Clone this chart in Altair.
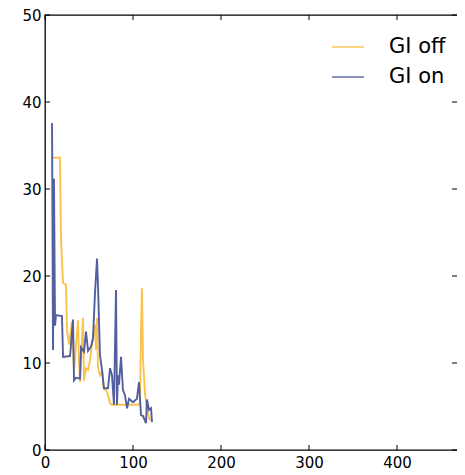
import altair as alt
import pandas as pd

# GI off series (orange)
off_x = [8.0, 17.0, 18.2, 20.5, 23.9, 25.0, 27.3, 30.7, 33.0, 35.2, 37.5, 38.6, 39.8, 43.2, 44.3,
         46.6, 48.9, 51.1, 53.4, 56.8, 58.0, 59.1, 60.2, 62.5, 64.8, 67.0, 70.5, 73.9, 76.1,
         105.7, 108.0, 109.1, 110.2, 111.4, 113.6, 115.9, 119.3]
off_y = [33.6, 33.6, 24.1, 19.2, 19.0, 13.8, 12.1, 14.7, 9.2, 12.1, 14.9, 10.3, 7.8, 15.2, 8.0,
         9.4, 9.2, 10.3, 12.1, 14.4, 11.5, 15.2, 9.5, 8.6, 9.0, 7.1, 6.7, 5.4, 5.2,
         5.2, 5.4, 13.8, 18.6, 10.3, 6.6, 4.6, 3.4]

# GI on series (blue)
on_x = [8.0, 9.1, 10.2, 11.4, 12.5, 19.3, 20.5, 28.4, 29.5, 31.8, 33.0, 35.2, 39.8, 40.9, 44.3,
        46.6, 48.9, 52.3, 54.5, 56.8, 59.1, 60.2, 62.5, 64.8, 67.0, 71.6, 73.9, 76.1, 78.4,
        80.7, 81.8, 83.0, 84.1, 86.4, 88.6, 90.9, 93.2, 95.5, 100.0, 104.5, 106.8, 109.1,
        111.4, 114.8, 115.9, 118.2, 120.5, 121.6]
on_y = [37.6, 11.5, 31.2, 14.3, 15.5, 15.4, 10.7, 10.8, 12.0, 15.0, 8.0, 8.3, 8.2, 11.8, 11.3,
        13.6, 11.4, 11.9, 12.8, 18.0, 22.0, 19.0, 10.9, 9.2, 7.1, 7.1, 9.4, 8.6, 5.2,
        18.4, 5.2, 8.6, 7.5, 10.7, 6.9, 6.3, 4.8, 5.9, 5.5, 5.9, 7.8, 4.0,
        3.9, 3.1, 5.8, 4.6, 4.8, 3.2]

series_names = ["GI off", "GI on"]
series_colors = ["#fbbf45", "#4a5699"]
x_ticks = [0, 100, 200, 300, 400]
y_ticks = [0, 10, 20, 30, 40, 50]

rows = []
for i, (xv, yv) in enumerate(zip(off_x, off_y)):
    rows.append({"x": xv, "y": yv, "s": "GI off", "o": i})
for i, (xv, yv) in enumerate(zip(on_x, on_y)):
    rows.append({"x": xv, "y": yv, "s": "GI on", "o": i})
df = pd.DataFrame(rows)

W, H = 420, 435
VIS = W - 8  # visible right edge of the plot (svg is cut there)
xs = alt.Scale(domain=[0, 477.3], nice=False, zero=False)
ys = alt.Scale(domain=[0, 50], nice=False, zero=False)
FONT = "DejaVu Sans"

x_axis = alt.Axis(values=x_ticks, ticks=False, domain=False, grid=False,
                  labelPadding=5, labelFontSize=15, labelFont=FONT,
                  labelColor="black", title=None, labelFlush=False)
y_axis = alt.Axis(values=y_ticks, ticks=False, domain=False, grid=False,
                  labelPadding=4, labelFontSize=15, labelFont=FONT,
                  labelColor="black", title=None, labelFlush=False)

lines = alt.Chart(df).mark_line(strokeWidth=1.9, opacity=0.95, clip=True).encode(
    x=alt.X("x:Q", scale=xs, axis=x_axis, title=None),
    y=alt.Y("y:Q", scale=ys, axis=y_axis, title=None),
    color=alt.Color("s:N", scale=alt.Scale(domain=series_names, range=series_colors),
                    legend=alt.Legend(orient="none", legendX=286, legendY=15, title=None,
                                      symbolType="stroke", symbolSize=1024, symbolStrokeWidth=1.6,
                                      labelFontSize=21, labelFont=FONT, labelColor="black",
                                      labelOffset=24, rowPadding=3, symbolOpacity=0.8)),
    order="o:Q",
)

ydf = pd.DataFrame({"y": y_ticks})
xdf = pd.DataFrame({"x": x_ticks})

yt_left = alt.Chart(ydf).mark_rule(color="black", strokeWidth=1).encode(
    y=alt.Y("y:Q", scale=ys, axis=y_axis, title=None), x=alt.value(0), x2=alt.value(5))
yt_right = alt.Chart(ydf).mark_rule(color="black", strokeWidth=1).encode(
    y=alt.Y("y:Q", scale=ys, axis=y_axis, title=None), x=alt.value(VIS - 5), x2=alt.value(VIS))
xt_bot = alt.Chart(xdf).mark_rule(color="black", strokeWidth=1).encode(
    x=alt.X("x:Q", scale=xs, axis=x_axis, title=None), y=alt.value(H - 5), y2=alt.value(H))
xt_top = alt.Chart(xdf).mark_rule(color="black", strokeWidth=1).encode(
    x=alt.X("x:Q", scale=xs, axis=x_axis, title=None), y=alt.value(0), y2=alt.value(5))

chart = alt.layer(lines, yt_left, yt_right, xt_bot, xt_top).properties(
    width=W, height=H,
    background="white",
    autosize=alt.AutoSizeParams(type="none"),
    padding={"left": 37, "top": 7, "right": -8, "bottom": 25},
).configure_view(stroke="black", strokeWidth=1.3)

chart.save("out.html", embed_options={"renderer": "svg", "actions": False})
